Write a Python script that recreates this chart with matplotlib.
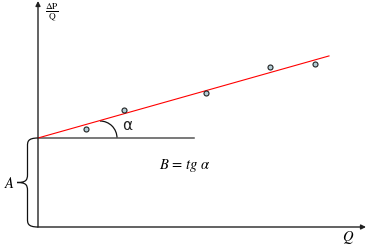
import numpy as np
import matplotlib
matplotlib.use("Agg")
import matplotlib.pyplot as plt
from matplotlib.patches import Arc, PathPatch
from matplotlib.path import Path

plt.rcParams["font.family"] = ["Liberation Serif", "DejaVu Serif"]
plt.rcParams["mathtext.fontset"] = "stix"

# measured points (Q, dP/Q)
q = [48, 86, 168, 232, 277]
dpq = [98, 117, 134, 160, 163]

# fitted line: intercept A and slope B
A = 89
B = 0.282
q_end = 291
base_len = 156


def draw_brace(ax, x, y0, y1, depth, **kwargs):
    mid = (y0 + y1) / 2
    half = depth / 2
    verts = [
        (x, y1),
        (x - half, y1), (x - half, y1 - 4), (x - half, y1 - 8),
        (x - half, mid + 8),
        (x - half, mid + 2), (x - half - 2, mid), (x - depth, mid),
        (x - half - 2, mid), (x - half, mid - 2), (x - half, mid - 8),
        (x - half, y0 + 8),
        (x - half, y0 + 4), (x - half, y0), (x, y0),
    ]
    codes = [Path.MOVETO,
             Path.CURVE4, Path.CURVE4, Path.CURVE4,
             Path.LINETO,
             Path.CURVE4, Path.CURVE4, Path.CURVE4,
             Path.CURVE4, Path.CURVE4, Path.CURVE4,
             Path.LINETO,
             Path.CURVE4, Path.CURVE4, Path.CURVE4]
    ax.add_patch(PathPatch(Path(verts, codes), fill=False, **kwargs))


def main():
    fig = plt.figure(figsize=(3.67, 2.48), dpi=100)
    ax = fig.add_axes([0, 0, 1, 1])
    ax.set_xlim(-38, 329)
    ax.set_ylim(-21, 227)
    ax.set_axis_off()

    axis_kw = dict(arrowstyle="-|>", color="#222222", lw=1.0,
                   mutation_scale=7, shrinkA=0, shrinkB=0)
    ax.annotate("", xy=(0, 226), xytext=(0, 0), arrowprops=axis_kw)
    ax.annotate("", xy=(328, 0), xytext=(0, 0), arrowprops=axis_kw)

    ax.plot([0, base_len], [A, A], color="#555555", lw=1.1)
    xs = np.array([0, q_end])
    ax.plot(xs, A + B * xs, color="#ff0000", lw=0.8)
    ax.plot(q, dpq, "o", ms=3.6, mfc="#b4cdd6", mec="#222222", mew=0.8)

    ax.add_patch(Arc((62, A), 34, 34, theta1=0, theta2=90,
                     color="#111111", lw=0.9))
    draw_brace(ax, 0, 0, A, 21, color="#111111", lw=0.9)

    ax.text(89, 102, "α", fontsize=11, ha="center", va="center",
            family=["DejaVu Sans"], color="#222222")
    ax.text(121, 61, r"$B\,=\,tg\ \alpha$", fontsize=10.5, ha="left", va="center")
    ax.text(310, -11, r"$Q$", fontsize=10.5, ha="center", va="center")
    ax.text(-29, 44, r"$A$", fontsize=10.5, ha="center", va="center")
    ax.text(14, 214, r"$\frac{\mathrm{\Delta P}}{\mathrm{Q}}$", fontsize=9.5,
            ha="center", va="center")

    fig.savefig("out.png", dpi=100)


if __name__ == "__main__":
    main()
